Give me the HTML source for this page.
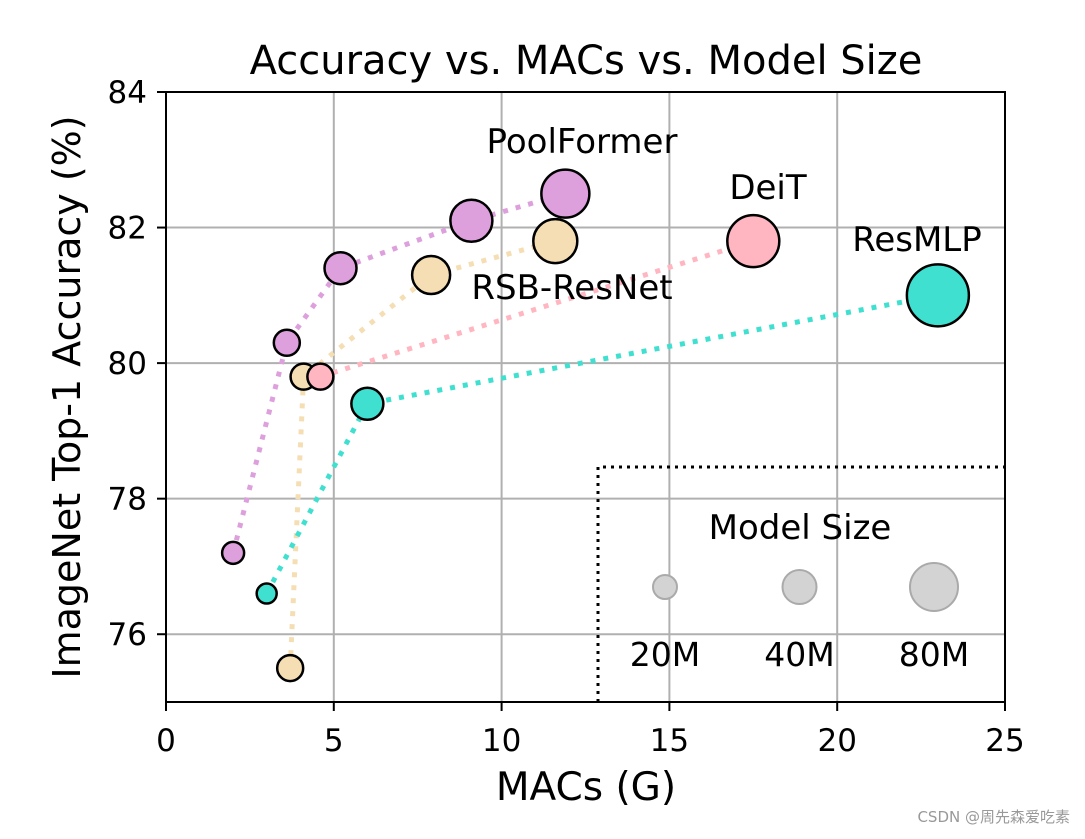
<!DOCTYPE html>
<html><head><meta charset="utf-8"><style>
body{margin:0;background:#fff;width:1085px;height:834px;overflow:hidden}
svg text{font-family:"DejaVu Sans","Liberation Sans",sans-serif;fill:#000}
</style></head><body>
<svg id="chart" width="1085" height="834" xmlns="http://www.w3.org/2000/svg">
<text x="586" y="74" font-size="40" text-anchor="middle">Accuracy vs. MACs vs. Model Size</text>
<g id="grid"></g>
<g id="lines"></g>
<g id="pts"></g>
<g id="legend"></g>
<rect x="166" y="92" width="839" height="610" fill="none" stroke="#000" stroke-width="2"/>
<g id="ticks"></g>
<text x="586" y="800" font-size="39" text-anchor="middle">MACs (G)</text>
<text transform="translate(80,397) rotate(-90)" font-size="38" text-anchor="middle">ImageNet Top-1 Accuracy (%)</text>
<text x="1070" y="822" font-size="15" text-anchor="end" style="fill:#999">CSDN @周先森爱吃素</text>
</svg>
<script>
const xTicks=[0,5,10,15,20,25];
const yTicks=[76,78,80,82,84];
const seriesNames=["PoolFormer","RSB-ResNet","DeiT","ResMLP"];
const poolX=[2.0,3.6,5.2,9.1,11.9], poolY=[77.2,80.3,81.4,82.1,82.5], poolR=[11,13,16,21,24];
const rsbX=[3.7,4.1,7.9,11.6], rsbY=[75.5,79.8,81.3,81.8], rsbR=[13,13,19,22];
const deitX=[4.6,17.5], deitY=[79.8,81.8], deitR=[13,26];
const mlpX=[3.0,6.0,23.0], mlpY=[76.6,79.4,81.0], mlpR=[10,16,31];
const legendLabels=["20M","40M","80M"], legendR=[12,17,24];
const NS="http://www.w3.org/2000/svg";
const X=v=>166+v*(839/25), Y=v=>702-(v-75)*(610/9);
function mk(t,a,p){const e=document.createElementNS(NS,t);for(const k in a)e.setAttribute(k,a[k]);document.getElementById(p).appendChild(e);return e;}
xTicks.forEach(t=>{
  const g=mk('line',{x1:X(t),x2:X(t),y1:92,y2:702,stroke:'#b0b0b0','stroke-width':2},'grid');
  
  
  const k=mk('line',{x1:X(t),x2:X(t),y1:702,y2:711,stroke:'#000','stroke-width':2},'ticks');
  
  
  const l=mk('text',{x:X(t),y:751,'font-size':31,'text-anchor':'middle'},'ticks');l.textContent=t;
  
  
});
yTicks.forEach(t=>{
  const g=mk('line',{x1:166,x2:1005,y1:Y(t),y2:Y(t),stroke:'#b0b0b0','stroke-width':2},'grid');
  
  
  const k=mk('line',{x1:157,x2:166,y1:Y(t),y2:Y(t),stroke:'#000','stroke-width':2},'ticks');
  
  
  const l=mk('text',{x:147,y:Y(t)+11,'font-size':31,'text-anchor':'end'},'ticks');l.textContent=t;
  
  
});
function poly(xs,ys){return xs.map((x,i)=>(i?'L':'M')+X(x)+','+Y(ys[i])).join(' ');}
const series=[[poolX,poolY,poolR,'#dda0dd'],[rsbX,rsbY,rsbR,'#f5deb3'],[deitX,deitY,deitR,'#ffb6c1'],[mlpX,mlpY,mlpR,'#40e0d0']];
series.forEach((s,si)=>{
  const l=mk('path',{d:poly(s[0],s[1]),fill:'none',stroke:s[3],'stroke-width':5,'stroke-dasharray':'5 8','stroke-linejoin':'round'},'lines');
  
  
});
series.forEach((s,si)=>{
  s[0].forEach((x,i)=>{
    const c=mk('circle',{cx:X(x),cy:Y(s[1][i]),r:s[2][i],fill:s[3],stroke:'#000','stroke-width':2.5},'pts');
    
    
  });
});
const labs=[["PoolFormer",582,153],["DeiT",768,199],["ResMLP",917,251],["RSB-ResNet",572,299]];
labs.forEach(a=>{const t=mk('text',{x:a[1],y:a[2],'font-size':34,'text-anchor':'middle'},'pts');t.textContent=a[0];
  
  });
const lb=mk('path',{d:'M598,702 L598,467 L1005,467',fill:'none',stroke:'#000','stroke-width':3,'stroke-dasharray':'3 5'},'legend');


const lt=mk('text',{x:800,y:539,'font-size':34,'text-anchor':'middle'},'legend');lt.textContent='Model Size';


legendLabels.forEach((s,i)=>{const cx=665+i*134.5;
  const c=mk('circle',{cx:cx,cy:587,r:legendR[i],fill:'#d3d3d3',stroke:'#aaa','stroke-width':2},'legend');
  
  
  const t=mk('text',{x:cx,y:666,'font-size':33,'text-anchor':'middle'},'legend');t.textContent=s;
  
  });
</script>
</body></html>
